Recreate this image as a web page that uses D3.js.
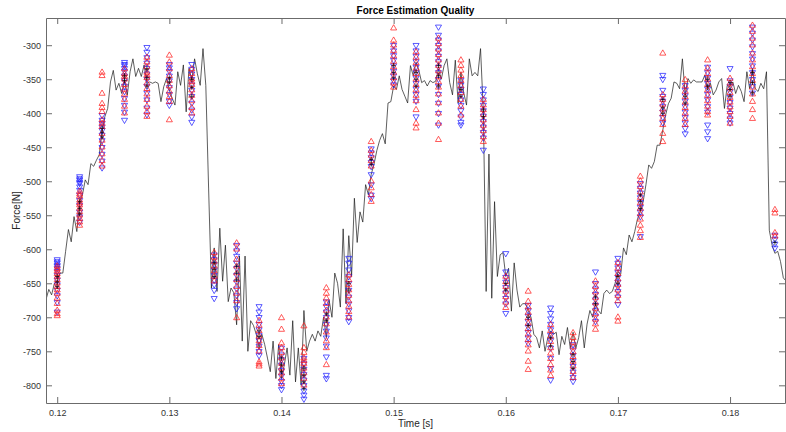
<!DOCTYPE html>
<html>
<head>
<meta charset="utf-8">
<script src="https://cdn.jsdelivr.net/npm/d3@7"></script>
<style>
  body { margin: 0; background: #fff; }
  text { font-family: "Liberation Sans", Arial, sans-serif; }
</style>
</head>
<body>
<svg id="chart" width="786" height="432"></svg>
<script>
// black reference force, sampled every 0.25 ms starting at 0.119 s
var lineT0 = 0.119, lineDt = 0.00025;
var forceLine = [
  -674,-659,-667,-650,-647,-635,-635,-603,-571,-589,
  -552,-574,-530,-520,-498,-505,-474,-478,-469,-461,
  -427,-405,-393,-354,-337,-366,-356,-371,-351,-373,
  -339,-320,-346,-334,-346,-329,-356,-354,-356,-354,
  -356,-383,-361,-349,-366,-378,-388,-339,-359,-329,
  -398,-334,-351,-320,-342,-359,-305,-359,-510,-657,
  -598,-662,-569,-647,-594,-677,-657,
  -664,-711,-610,-735,-610,-750,-705,-712,-725,-745,
  -725,-740,-760,-780,-735,-790,-740,-790,-770,-745,
  -785,-705,-795,-745,-800,-690,-750,-735,-725,-735,
  -720,-728,-700,-730,-675,-700,-635,-650,-685,-570,
  -680,-580,-640,-525,-590,-545,-560,-505,-520,-490,
  -475,-455,-440,-430,-445,-385,-383,-360,-365,-345,
  -365,-375,-385,-330,
  -345,-325,-337,-355,-352,-360,-352,-355,-353,-335,
  -350,-330,-320,-355,-373,-322,-385,-340,-370,-388,
  -320,-345,-340,-345,-305,-398,-662,-460,-672,-530,
  -640,-608,-605,-640,-628,-691,-620,-660,-685,-680,
  -680,-690,-700,-725,-730,-745,-720,-750,-730,-720,
  -725,-722,-755,-728,-740,-715,-745,-722,-745,-730,
  -705,-745,-710,-690,-700,-680,-690,-695,-665,
  -660,-665,-662,-650,-633,-637,-598,-608,-579,-589,
  -574,-555,-545,-530,-505,-476,-481,-471,-447,-447,
  -425,-403,-386,-378,-354,-356,-364,-320,-373,-349,
  -356,-351,-354,-354,-354,-344,-366,-356,-373,-366,
  -354,-349,-393,-359,-361,-354,-371,-359,-368,-383,
  -339,-364,-334,-364,-368,-356,-364,-339,-572,-594,
  -606,-603,-618,-642,-647
];

// estimation instants
var estTimes = [0.120,0.122,0.124,0.126,0.128,0.130,0.132,0.134,0.136,0.138,0.140,
  0.142,0.144,0.146,0.148,0.150,0.152,0.154,0.156,0.158,0.160,0.162,0.164,0.166,
  0.168,0.170,0.172,0.174,0.176,0.178,0.180,0.182,0.184];

// red up-triangles
var redEst = [
  [-625,-629,-632,-636,-640,-645,-650,-655,-660,-665,-672,-680,-690,-695,-698],
  [-515,-519,-522,-528,-532,-535,-540,-545,-550,-555,-560,-565],
  [-340,-345,-371,-386,-392,-398,-410,-415,-420,-430,-440,-450,-460,-470,-478],
  [-335,-342,-346,-350,-358,-365,-372,-380,-390,-400],
  [-318,-325,-332,-340,-344,-348,-356,-364,-372,-380,-390,-398,-405],
  [-315,-325,-335,-345,-352,-360,-368,-376,-383,-410],
  [-335,-342,-350,-354,-358,-366,-374,-382,-392,-400],
  [-605,-612,-618,-625,-632,-640,-647],
  [-591,-600,-615,-625,-635,-645,-655,-665,-676,-701],
  [-705,-712,-720,-728,-735,-742,-750,-766,-769,-772],
  [-701,-718,-738,-745,-752,-760,-768,-775,-782,-790,-798],
  [-713,-745,-752,-760,-764,-768,-775,-782,-790,-800],
  [-657,-665,-672,-680,-690,-700,-710,-722,-735,-745,-770],
  [-638,-645,-652,-660,-668,-676,-684,-692,-700],
  [-442,-455,-462,-470,-478,-500,-510,-520,-530],
  [-275,-293,-300,-308,-316,-324,-332,-340,-348,-356,-362],
  [-310,-318,-326,-334,-342,-350,-358,-366,-374,-382,-395,-415,-422],
  [-290,-298,-306,-314,-322,-330,-338,-346,-354,-362,-372,-385,-400,-415,-439],
  [-322,-330,-337,-345,-352,-360,-370,-380,-390,-403],
  [-380,-388,-395,-402,-410,-418,-426,-435,-442],
  [-640,-648,-655,-662,-670,-678,-686],
  [-662,-677,-685,-693,-701,-709,-717,-725,-733,-741,-750,-765,-777],
  [-711,-720,-728,-736,-745,-753,-761,-770,-778,-786],
  [-723,-730,-737,-744,-751,-758,-765,-772,-780,-789],
  [-647,-655,-663,-671,-679,-687,-695,-703,-710,-718],
  [-620,-628,-636,-644,-652,-660,-668,-676,-700,-706],
  [-493,-500,-508,-516,-524,-532,-540,-548,-556,-565,-573,-583],
  [-312,-373,-380,-387,-394,-401,-408,-417,-430,-442],
  [-351,-360,-368,-376,-384,-392,-400,-408,-417],
  [-322,-334,-342,-350,-358,-366,-374,-382,-390,-398,-403],
  [-349,-356,-363,-370,-377,-384,-391,-398,-405,-415],
  [-271,-280,-290,-300,-312,-322,-332,-342,-352,-362,-372,-383,-395,-408],
  [-542,-547,-576,-581]
];

// blue down-triangles
var blueEst = [
  [-615,-618,-620,-623,-625,-628,-632,-638,-645,-652,-660,-668,-678,-692],
  [-493,-496,-498,-501,-503,-508,-513,-520,-528,-535,-545,-552,-560],
  [-403,-410,-415,-420,-425,-432,-440,-450,-460,-470,-480],
  [-325,-328,-330,-334,-338,-345,-352,-360,-368,-378,-388,-398,-410],
  [-303,-310,-318,-326,-334,-342,-350,-360,-370,-380,-392,-402],
  [-328,-333,-338,-345,-352,-362,-372,-382,-388],
  [-328,-335,-342,-350,-358,-366,-375,-385,-395,-405,-413],
  [-608,-615,-622,-630,-638,-645,-652,-660,-672],
  [-594,-602,-610,-620,-628,-638,-648,-658,-668,-678,-687],
  [-684,-692,-700,-710,-718,-726,-734,-742,-750,-756],
  [-745,-755,-762,-770,-778,-786,-794,-800,-806],
  [-760,-768,-776,-784,-792,-800,-808,-814,-820],
  [-677,-684,-692,-700,-710,-720,-730,-742,-758,-785,-790],
  [-613,-620,-630,-640,-650,-660,-670,-680,-690,-700,-706],
  [-452,-458,-465,-472,-478,-490,-505,-520,-525],
  [-300,-308,-315,-322,-330,-338,-345,-352,-358],
  [-300,-308,-316,-324,-332,-340,-348,-356,-364,-372,-382,-405],
  [-273,-285,-292,-300,-308,-316,-324,-332,-340,-350,-360,-372,-385,-400,-417],
  [-351,-358,-365,-372,-380,-388,-396,-405,-413,-417],
  [-364,-372,-380,-388,-396,-404,-412,-420,-428,-436,-454],
  [-606,-633,-641,-648,-656,-664,-672,-680,-694],
  [-682,-690,-698,-706,-714,-722,-730,-738],
  [-686,-694,-702,-710,-718,-726,-734,-745,-760,-775,-792],
  [-740,-748,-756,-764,-772,-780,-788,-794],
  [-633,-650,-658,-666,-674,-682,-690,-698,-706],
  [-613,-620,-627,-634,-641,-648,-655,-662,-670,-681],
  [-503,-510,-517,-524,-531,-538,-545,-552,-581],
  [-344,-350,-366,-375,-382,-390,-398,-406,-414],
  [-359,-366,-374,-382,-390,-398,-406,-414,-422,-430],
  [-332,-340,-348,-356,-364,-372,-380,-390,-398,-417,-427,-437],
  [-334,-352,-360,-368,-376,-384,-392,-400,-408,-414],
  [-273,-282,-292,-302,-312,-320,-330,-340,-350,-360,-370],
  [-579,-585,-592,-598]
];

// black plus markers
var plusEst = [
  [-640,-648,-655],[-530,-540,-548],[-422,-428,-435],[-345,-352],[-335,-348,-360],
  [-348,-354],[-350,-362,-375],[-620,-630,-640],[-625,-635,-645],[-720,-728],
  [-760,-770,-780],[-775,-785,-795,-805],[-695,-705],[-650,-660],[-468,-475],
  [-330,-340,-348],[-340,-350,-360],[-330,-345,-360],[-365,-375],[-395,-405],
  [-650,-660],[-700,-712],[-730,-742],[-755,-765,-775],[-670,-680],[-640,-650],
  [-520,-530,-540],[-380,-392,-400],[-375,-385],[-350,-360],[-355,-365,-375],
  [-340,-355,-370],[-590]
];

var xTicks = [0.12,0.13,0.14,0.15,0.16,0.17,0.18];
var yTicks = [-800,-750,-700,-650,-600,-550,-500,-450,-400,-350,-300];

var margin = {top: 18, right: 1, bottom: 29, left: 46},
    width = 786 - margin.left - margin.right,
    height = 432 - margin.top - margin.bottom;

var svg = d3.select("#chart");
var g = svg.append("g").attr("transform", "translate(" + margin.left + "," + margin.top + ")");

var x = d3.scaleLinear().domain([0.119, 0.1849]).range([0, width]);
var y = d3.scaleLinear().domain([-826, -260]).range([height, 0]);

g.append("clipPath").attr("id", "clip")
  .append("rect").attr("width", width).attr("height", height);

var plot = g.append("g").attr("clip-path", "url(#clip)");

// reference line
var linePts = forceLine.map(function(v, i) { return [lineT0 + i * lineDt, v]; });
plot.append("path")
  .datum(linePts)
  .attr("fill", "none")
  .attr("stroke", "#1a1a1a")
  .attr("stroke-width", 0.7)
  .attr("d", d3.line().x(function(d) { return x(d[0]); }).y(function(d) { return y(d[1]); }));

function flatten(groups) {
  var out = [];
  groups.forEach(function(vals, i) {
    vals.forEach(function(v) { out.push([estTimes[i], v]); });
  });
  return out;
}

var tri = d3.symbol().type(d3.symbolTriangle).size(16);

plot.append("g").selectAll("path")
  .data(flatten(blueEst)).enter().append("path")
  .attr("d", tri)
  .attr("transform", function(d) { return "translate(" + x(d[0]) + "," + y(d[1]) + ") rotate(180)"; })
  .attr("fill", "none").attr("stroke", "#1a1aff").attr("stroke-width", 0.8).attr("stroke-opacity", 0.9);

plot.append("g").selectAll("path")
  .data(flatten(redEst)).enter().append("path")
  .attr("d", tri)
  .attr("transform", function(d) { return "translate(" + x(d[0]) + "," + y(d[1]) + ")"; })
  .attr("fill", "none").attr("stroke", "#ff1a1a").attr("stroke-width", 0.8).attr("stroke-opacity", 0.9);

plot.append("g").selectAll("path")
  .data(flatten(plusEst)).enter().append("path")
  .attr("d", "M-2,0H2M0,-2.5V2.5")
  .attr("transform", function(d) { return "translate(" + x(d[0]) + "," + y(d[1]) + ")"; })
  .attr("fill", "none").attr("stroke", "#000").attr("stroke-width", 0.7);

// axes, MATLAB box style with inward ticks
function styleAxis(sel) {
  sel.selectAll(".domain").attr("stroke", "#6b6b6b");
  sel.selectAll(".tick line").attr("stroke", "#6b6b6b");
  sel.selectAll("text").attr("fill", "#333").style("font-size", "9px")
    .style("font-family", "'Liberation Sans', Arial, sans-serif");
}

g.append("g").attr("transform", "translate(0," + height + ")")
  .call(d3.axisBottom(x).tickValues(xTicks).tickSizeInner(-6).tickSizeOuter(0).tickPadding(7)
    .tickFormat(d3.format(".2f")))
  .call(styleAxis);
g.append("g")
  .call(d3.axisTop(x).tickValues(xTicks).tickSizeInner(-6).tickSizeOuter(0).tickFormat(""))
  .call(styleAxis);
g.append("g")
  .call(d3.axisLeft(y).tickValues(yTicks).tickSizeInner(-6).tickSizeOuter(0).tickPadding(5)
    .tickFormat(d3.format("d")))
  .call(styleAxis);
g.append("g").attr("transform", "translate(" + width + ",0)")
  .call(d3.axisRight(y).tickValues(yTicks).tickSizeInner(-6).tickSizeOuter(0).tickFormat(""))
  .call(styleAxis);

// the tick labels use a plain hyphen-minus like MATLAB
g.selectAll(".tick text").text(function() { return d3.select(this).text().replace("\u2212", "-"); });

svg.append("text")
  .attr("x", margin.left + width / 2).attr("y", 14)
  .attr("text-anchor", "middle")
  .style("font-size", "10px").style("font-weight", "bold").attr("fill", "#000")
  .text("Force Estimation Quality");

svg.append("text")
  .attr("x", margin.left + width / 2).attr("y", 427)
  .attr("text-anchor", "middle")
  .style("font-size", "10px").attr("fill", "#262626")
  .text("Time [s]");

svg.append("text")
  .attr("transform", "translate(20," + (margin.top + height / 2) + ") rotate(-90)")
  .attr("text-anchor", "middle")
  .style("font-size", "10px").attr("fill", "#262626")
  .text("Force[N]");
</script>
</body>
</html>
